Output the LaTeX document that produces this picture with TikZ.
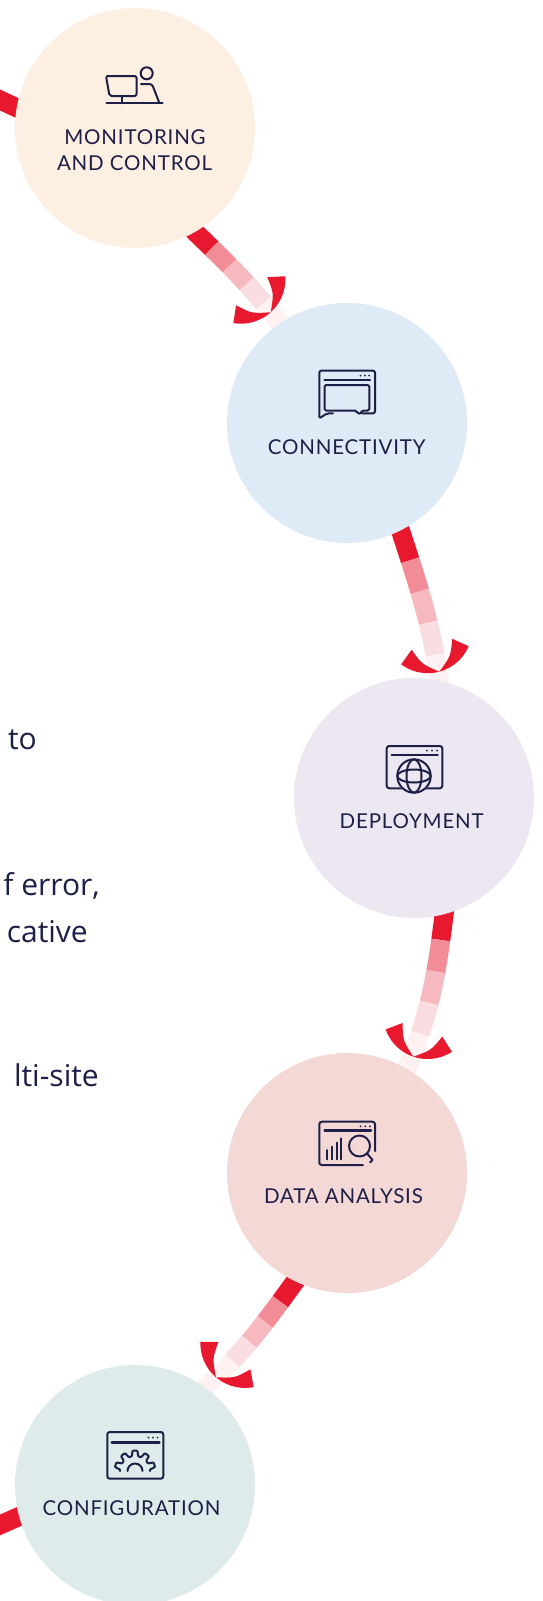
\documentclass[tikz,border=0pt]{standalone}
\usepackage{fontspec}
\setmainfont{Open Sans}
\newfontfamily\lblfont{Lato}[LetterSpace=4]
\newfontfamily\bodyfont{Open Sans}
\usetikzlibrary{calc}
\definecolor{navy}{HTML}{1E1F47}
\definecolor{pal0}{HTML}{E8192F}
\definecolor{pal1}{HTML}{F28C96}
\definecolor{pal2}{HTML}{F6B9BF}
\definecolor{pal3}{HTML}{FADDE0}
\definecolor{pal4}{HTML}{FDF1F2}
\definecolor{cmon}{HTML}{FDEFE1}
\definecolor{ccon}{HTML}{DEEAF5}
\definecolor{cdep}{HTML}{ECE7F1}
\definecolor{cdat}{HTML}{F4D8D6}
\definecolor{ccfg}{HTML}{DEEBEA}
\tikzset{
  crescent/.pic={\fill[pal0] (-17,35) arc[start angle=51.8,end angle=-51.8,radius=44.5]
     -- (-28.4,-21) .. controls (-12,-15) .. (0,0) .. controls (-12,15) .. (-28.4,21) -- cycle;},
  stepcircle/.style={circle, minimum size=240pt, inner sep=0pt, outer sep=0pt, draw=none},
  lbl/.style={font=\lblfont\fontsize{20.5}{26}\selectfont, text=navy, inner sep=0pt, anchor=base},
  bodytxt/.style={font=\bodyfont\fontsize{30}{47}\selectfont, text=navy, inner sep=0pt, anchor=base east},
  bandline/.style={line width=19pt, line cap=butt},
  icon/.style={draw=navy, line width=2pt, line cap=round, line join=round},
  titlebar/.style={draw=navy, line width=2.4pt, line cap=round},
}
\newcommand\gradband[3]{%
  \pgfmathsetmacro\gbA{#2}%
  \pgfmathsetmacro\gbB{#2+#3}%
  \pgfmathsetmacro\gbC{#2+2*#3}%
  \pgfmathsetmacro\gbL{#3}%
  \draw[bandline,pal4] #1;
  \draw[bandline,pal0,dash pattern=on \gbA pt off 3000pt] #1;
  \draw[bandline,pal1,dash pattern=on 0pt off \gbA pt on \gbL pt off 3000pt] #1;
  \draw[bandline,pal2,dash pattern=on 0pt off \gbB pt on \gbL pt off 3000pt] #1;
  \draw[bandline,pal3,dash pattern=on 0pt off \gbC pt on \gbL pt off 3000pt] #1;
}
\begin{document}
\begin{tikzpicture}[x=1pt,y=1pt]
\fill[white] (0,0) rectangle (543,-1601);
\useasboundingbox (0,0) rectangle (543,-1601);

% band end points
\coordinate (inA) at (-10,-95.3);
\coordinate (inB) at (40,-118.7);
\coordinate (outA) at (40,-1507.2);
\coordinate (outB) at (-10,-1529.4);
\coordinate (a1s) at (192,-229);
\coordinate (a1e) at (283.6,-327.6);
\coordinate (a2s) at (399,-526);
\coordinate (a2e) at (440.5,-688);
\coordinate (a3s) at (444.7,-909.5);
\coordinate (a3e) at (404.5,-1074.5);
\coordinate (a4s) at (297.3,-1278.4);
\coordinate (a4e) at (199.9,-1392.3);

% bands
\draw[bandline,pal0] (inA) -- (inB);
\draw[bandline,pal0] (outA) -- (outB);
\gradband{(a1s) to[out=-44,in=128] (a1e)}{27.5}{25}
\gradband{(a2s) to[out=-72,in=98] (a2e)}{36}{32.5}
\gradband{(a3s) to[out=-97,in=67] (a3e)}{30.7}{32}
\gradband{(a4s) to[out=-126,in=42] (a4e)}{28.8}{25.3}

% arrow heads
\pic[rotate=-48] at (270.7,-312.3) {crescent};
\pic[rotate=-75] at (439.3,-671.7) {crescent};
\pic[rotate=-108.7] at (413.3,-1056.7) {crescent};
\pic[rotate=-130.4] at (216,-1377.3) {crescent};

% circles
\node[stepcircle, fill=cmon] (mon) at (135,-128) {};
\node[stepcircle, fill=ccon] (con) at (347,-423) {};
\node[stepcircle, fill=cdep] (dep) at (414,-798) {};
\node[stepcircle, fill=cdat] (dat) at (347,-1173) {};
\node[stepcircle, fill=ccfg] (cfg) at (135,-1485) {};

% labels
\node[lbl] (monl1) at (135,-144) {MONITORING};
\node[lbl] (monl2) at (134.5,-170) {AND CONTROL};
\node[lbl] (conl) at (346.7,-454) {CONNECTIVITY};
\node[lbl] (depl) at (411.7,-828) {DEPLOYMENT};
\node[lbl] (datl) at (343.5,-1203) {DATA ANALYSIS};
\node[lbl] (cfgl) at (131.5,-1515) {CONFIGURATION};

% left body text (cut by the page edge)
\node[bodytxt] (txt1) at (37,-749) {to};
\node[bodytxt] (txt2) at (100,-895) {f error,};
\node[bodytxt] (txt3) at (88,-942) {cative};
\node[bodytxt] (txt4) at (99,-1086) {lti-site};

% icon: monitoring
\draw[icon] (146.7,-73.3) circle[radius=6];
\draw[icon, rounded corners=2] (109.5,-96) -- (106,-76) -- (136.5,-76) -- (136.5,-96) -- cycle;
\draw[icon] (121.7,-96) -- (121.7,-103.3);
\draw[icon, rounded corners=2.5] (141,-84) -- (152,-84) -- (159.5,-103.3);
\draw[icon] (106.5,-103.3) -- (162.7,-103.3);

% icon: connectivity
\draw[icon, rounded corners=2] (362,-413.3) -- (375,-413.3) -- (375,-370.7) -- (319.3,-370.7) -- (319.3,-418.5) -- (327,-413.3) -- (333,-413.3);
\draw[titlebar] (324.5,-380) -- (370,-380);
\foreach \dx in {360.5,364.8,369.1} \fill[navy] (\dx,-375.5) circle[radius=1];
\draw[icon, rounded corners=1.5] (355,-410.5) -- (324.5,-410.5) -- (324.5,-385) -- (369.3,-385) -- (369.3,-410.5) -- (362,-410.5) -- (360,-414.5) -- (355,-410.5);

% icon: deployment
\draw[icon, rounded corners=2.5] (386.7,-746) rectangle (442.3,-788.3);
\draw[titlebar] (391.7,-755) -- (437.7,-755);
\foreach \dx in {427,432,437} \fill[navy] (\dx,-750.7) circle[radius=1];
\fill[cdep] (414,-776) circle[radius=17.7];
\draw[icon] (414,-776) circle[radius=16.7];
\draw[icon] (414,-776) ellipse[x radius=7.5, y radius=16.7];
\draw[icon] (414,-776) ellipse[x radius=16.7, y radius=6.5];

% icon: data analysis
\draw[icon, rounded corners=2.5] (375,-1151) -- (375,-1121.7) -- (319.3,-1121.7) -- (319.3,-1165) -- (363,-1165);
\draw[titlebar] (324.5,-1130.3) -- (371,-1130.3);
\foreach \dx in {360.5,365.3,370} \fill[navy] (\dx,-1126.3) circle[radius=1];
\draw[icon] (327.3,-1159.3) -- (327.3,-1150);
\draw[icon] (331.8,-1159.3) -- (331.8,-1146.7);
\draw[icon] (336.5,-1159.3) -- (336.5,-1142.7);
\draw[icon] (341.2,-1159.3) -- (341.2,-1138.3);
\draw[icon] (359.5,-1146) circle[radius=10.5];
\draw[icon] (367.2,-1153.6) -- (372.5,-1160) -- (370,-1162.5);

% icon: configuration
\draw[icon, rounded corners=2.5] (107.3,-1432) rectangle (163.3,-1478.7);
\draw[titlebar] (111.7,-1442.3) -- (159.5,-1442.3);
\foreach \dx in {148.5,153,157.5} \fill[navy] (\dx,-1437.5) circle[radius=1];
\begin{scope}[shift={(135,-1471)}]
\draw[icon, rounded corners=0.8] (180:15) -- (174:15) -- (169:20.5) -- (155:20.5) -- (150:15)
  -- (138:15) -- (133:20.5) -- (119:20.5) -- (114:15)
  -- (102:15) -- (97:20.5) -- (83:20.5) -- (78:15)
  -- (66:15) -- (61:20.5) -- (47:20.5) -- (42:15)
  -- (30:15) -- (25:20.5) -- (11:20.5) -- (6:15) -- (0:15);
\draw[icon] (180:7.5) arc[start angle=180, end angle=0, radius=7.5];
\end{scope}
\end{tikzpicture}
\end{document}
